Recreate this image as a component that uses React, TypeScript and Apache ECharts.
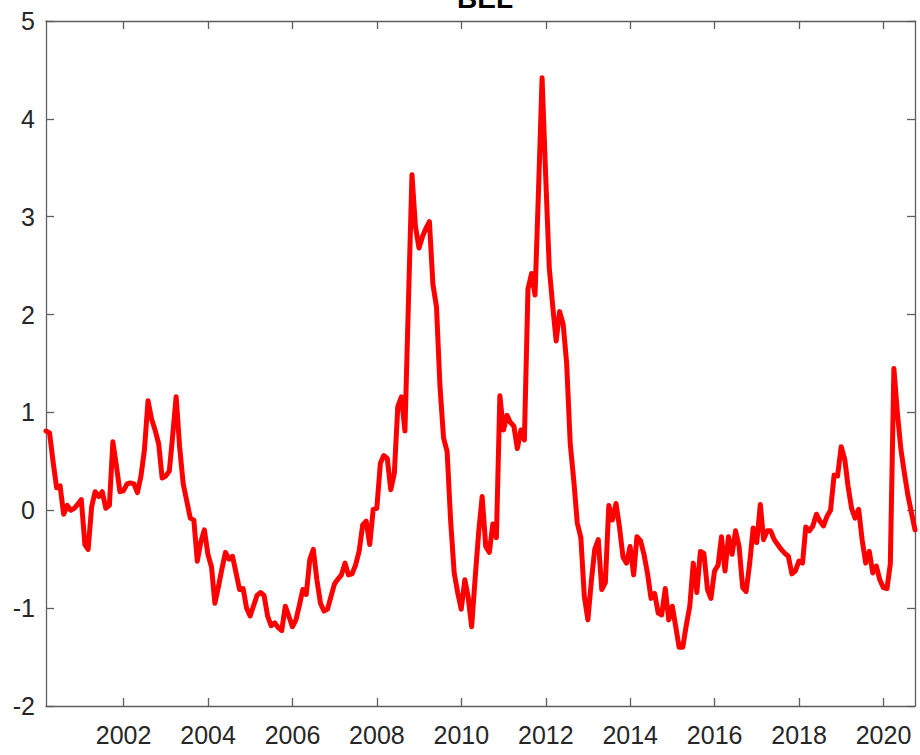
import React, { useEffect, useRef } from "react";
import * as echarts from "echarts";

// Monthly observations, end of month, from Feb 2000 to Sep 2020
const START_YEAR = 2000;
const START_MONTH = 1; // February (0-based)

const values: number[] = [
  0.81, 0.79, 0.5, 0.23, 0.25, -0.04, 0.05, 0.0, 0.02, 0.06,
  0.11, -0.35, -0.4, 0.04, 0.19, 0.14, 0.19, 0.02, 0.05, 0.7,
  0.45, 0.19, 0.2, 0.27, 0.28, 0.27, 0.18, 0.35, 0.62, 1.12,
  0.93, 0.82, 0.68, 0.33, 0.35, 0.4, 0.75, 1.16, 0.65, 0.27,
  0.1, -0.08, -0.1, -0.52, -0.32, -0.2, -0.45, -0.58, -0.95, -0.78,
  -0.6, -0.43, -0.5, -0.47, -0.64, -0.81, -0.8, -1.0, -1.08, -0.97,
  -0.87, -0.84, -0.87, -1.08, -1.18, -1.15, -1.2, -1.23, -0.98, -1.08,
  -1.19, -1.12, -0.98, -0.81, -0.86, -0.5, -0.4, -0.71, -0.95, -1.03,
  -1.01, -0.88, -0.75, -0.7, -0.66, -0.54, -0.66, -0.65, -0.56, -0.42,
  -0.15, -0.11, -0.35, 0.01, 0.02, 0.48, 0.56, 0.53, 0.21, 0.38,
  1.06, 1.16, 0.81, 2.12, 3.43, 2.9, 2.68, 2.8, 2.88, 2.95,
  2.31, 2.08, 1.27, 0.74, 0.6, -0.1, -0.64, -0.84, -1.01, -0.71,
  -0.88, -1.19, -0.7, -0.22, 0.14, -0.37, -0.43, -0.14, -0.28, 1.17,
  0.82, 0.97, 0.9, 0.86, 0.63, 0.82, 0.72, 2.26, 2.42, 2.2,
  3.3, 4.42, 3.42, 2.48, 2.1, 1.73, 2.03, 1.9, 1.5, 0.68,
  0.3, -0.13, -0.28, -0.88, -1.12, -0.71, -0.4, -0.3, -0.81, -0.74,
  0.05, -0.1, 0.07, -0.17, -0.48, -0.54, -0.37, -0.66, -0.27, -0.31,
  -0.45, -0.65, -0.9, -0.85, -1.05, -1.07, -0.8, -1.12, -0.98, -1.2,
  -1.4, -1.4, -1.18, -0.98, -0.54, -0.84, -0.42, -0.44, -0.81, -0.9,
  -0.62, -0.56, -0.27, -0.62, -0.27, -0.45, -0.21, -0.37, -0.79, -0.83,
  -0.54, -0.18, -0.33, 0.06, -0.3, -0.21, -0.21, -0.3, -0.35, -0.4,
  -0.44, -0.47, -0.65, -0.62, -0.52, -0.54, -0.17, -0.21, -0.16, -0.04,
  -0.11, -0.16, -0.06, 0.0, 0.36, 0.35, 0.65, 0.52, 0.25, 0.02,
  -0.08, 0.01, -0.3, -0.54, -0.42, -0.64, -0.57, -0.71, -0.79, -0.8,
  -0.55, 1.45, 1.0, 0.62, 0.38, 0.15, -0.03, -0.2,
];

const tickYears: number[] = [2002, 2004, 2006, 2008, 2010, 2012, 2014, 2016, 2018, 2020];
const yMin = -2;
const yMax = 5;
const TITLE = "BEL";

// end-of-month dates expressed as decimal years
function decimalYear(ts: number): number {
  const d = new Date(ts);
  const y = d.getUTCFullYear();
  const a = Date.UTC(y, 0, 1);
  const b = Date.UTC(y + 1, 0, 1);
  return y + (ts - a) / (b - a);
}
const dates: number[] = values.map((_, k) => decimalYear(Date.UTC(START_YEAR, START_MONTH + k + 1, 0)));

const AXIS_COLOR = "#5e5e5e";
const TEXT_COLOR = "#262626";
const FONT = "'Liberation Sans', Arial, Helvetica, sans-serif";

export default function App() {
  const ref = useRef<HTMLDivElement>(null);

  useEffect(() => {
    if (!ref.current) return;
    const chart = echarts.init(ref.current, undefined, { renderer: "svg" });
    const xMin = dates[0];
    const xMax = dates[dates.length - 1];
    const commonAxisLine = { show: true, onZero: false, lineStyle: { color: AXIS_COLOR, width: 1.3 } };
    const tickStyle = { color: AXIS_COLOR, width: 1.3 };
    chart.setOption({
      animation: false,
      backgroundColor: "#ffffff",
      title: {
        text: TITLE,
        left: 480,
        textAlign: "center",
        top: -21,
        textStyle: { fontSize: 28, fontWeight: "bold", color: "#000", fontFamily: FONT },
      },
      grid: { left: 46, top: 21, right: 5, bottom: 49, containLabel: false },
      xAxis: [
        {
          type: "value",
          position: "bottom",
          min: xMin,
          max: xMax,
          axisLine: commonAxisLine,
          axisTick: { show: true, inside: true, length: 8, customValues: tickYears, lineStyle: tickStyle },
          axisLabel: {
            show: true,
            customValues: tickYears,
            margin: 16,
            fontSize: 25,
            color: TEXT_COLOR,
            fontFamily: FONT,
            formatter: (v: number) => String(Math.round(v)),
          },
          splitLine: { show: false },
        },
        {
          type: "value",
          position: "top",
          min: xMin,
          max: xMax,
          axisLine: commonAxisLine,
          axisTick: { show: true, inside: true, length: 8, customValues: tickYears, lineStyle: tickStyle },
          axisLabel: { show: false, customValues: tickYears },
          splitLine: { show: false },
        },
      ],
      yAxis: [
        {
          type: "value",
          position: "left",
          min: yMin,
          max: yMax,
          interval: 1,
          axisLine: commonAxisLine,
          axisTick: { show: true, inside: true, length: 8, lineStyle: tickStyle },
          axisLabel: { show: true, margin: 11, fontSize: 25, color: TEXT_COLOR, fontFamily: FONT },
          splitLine: { show: false },
        },
        {
          type: "value",
          position: "right",
          min: yMin,
          max: yMax,
          interval: 1,
          axisLine: commonAxisLine,
          axisTick: { show: true, inside: true, length: 8, lineStyle: tickStyle },
          axisLabel: { show: false },
          splitLine: { show: false },
        },
      ],
      series: [
        {
          type: "line",
          xAxisIndex: 0,
          yAxisIndex: 0,
          data: dates.map((d, i) => [d, values[i]]),
          showSymbol: false,
          symbol: "none",
          lineStyle: { color: "#ff0000", width: 5, join: "round", cap: "round" },
          z: 1,
        },
      ],
    });
    return () => chart.dispose();
  }, []);

  return (
    <div
      ref={ref}
      style={{ position: "fixed", left: 0, top: 0, width: 920, height: 755, background: "#fff" }}
    />
  );
}
